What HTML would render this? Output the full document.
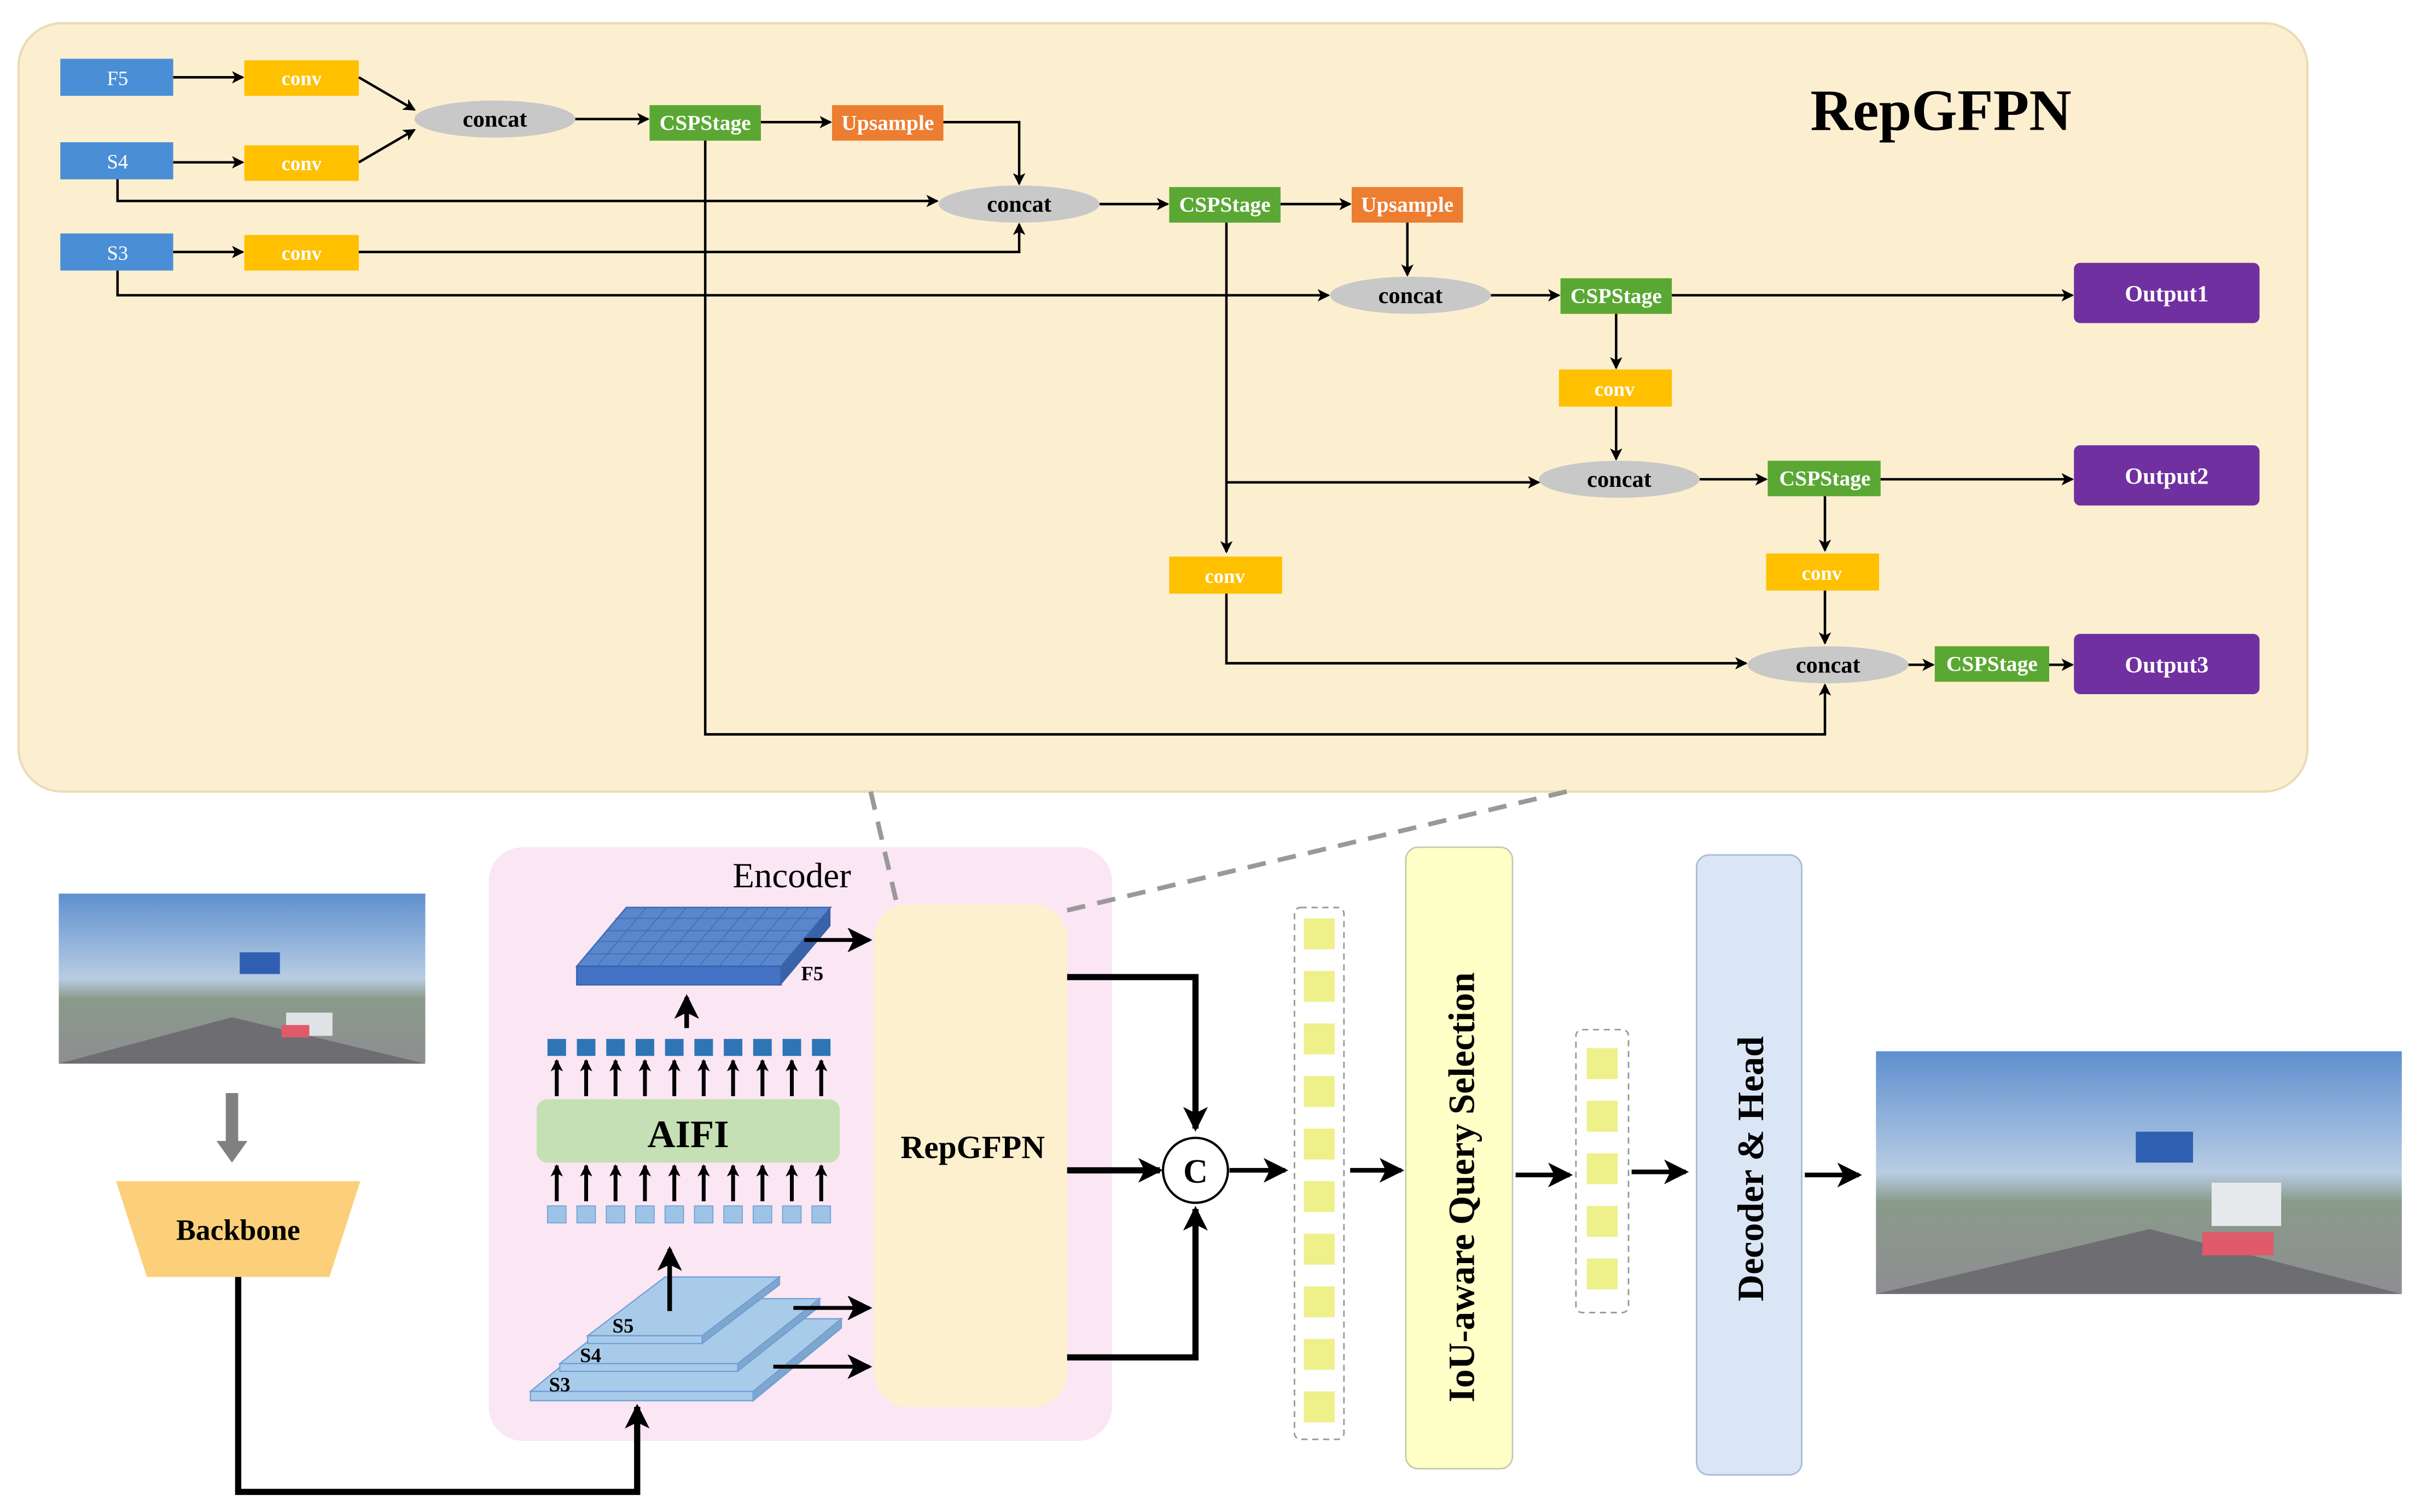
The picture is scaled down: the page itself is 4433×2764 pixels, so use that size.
<!DOCTYPE html>
<html><head><meta charset="utf-8"><style>
html,body{margin:0;padding:0;background:#fff;}
svg{display:block;}
text{font-family:"Liberation Serif",serif;}
</style></head><body>
<svg width="4433" height="2764" viewBox="0 0 1568 978" preserveAspectRatio="none" xmlns="http://www.w3.org/2000/svg">
<defs>
<marker id="a" markerWidth="8" markerHeight="8" refX="7" refY="4" orient="auto" markerUnits="userSpaceOnUse"><path d="M0,0 L8,4 L0,8 L2,4z" fill="#000"/></marker>
<marker id="b" markerWidth="16" markerHeight="16" refX="14" refY="8" orient="auto" markerUnits="userSpaceOnUse"><path d="M0,0 L16,8 L0,16 L4,8z" fill="#000"/></marker>
<linearGradient id="sky" x1="0" y1="0" x2="0" y2="1"><stop offset="0" stop-color="#5f8fcf"/><stop offset="0.5" stop-color="#b8cde3"/><stop offset="0.62" stop-color="#8a9a8a"/><stop offset="1" stop-color="#8e8e92"/></linearGradient>
</defs>
<!-- top panel -->
<rect x="12" y="15" width="1480" height="497" rx="28" fill="#fcefd0" stroke="#eadcb8" stroke-width="1.5"/>
<text x="1255" y="84" font-size="38" font-weight="bold" text-anchor="middle">RepGFPN</text>
<g font-size="13" fill="#fff" text-anchor="middle" font-weight="bold">
<rect x="39" y="38" width="73" height="24" fill="#4a8fd6"/><text x="76" y="55" font-weight="normal">F5</text>
<rect x="39" y="92" width="73" height="24" fill="#4a8fd6"/><text x="76" y="109" font-weight="normal">S4</text>
<rect x="39" y="151" width="73" height="24" fill="#4a8fd6"/><text x="76" y="168" font-weight="normal">S3</text>
<rect x="158" y="39" width="74" height="23" fill="#ffc000"/><text x="195" y="55">conv</text>
<rect x="158" y="94" width="74" height="23" fill="#ffc000"/><text x="195" y="110">conv</text>
<rect x="158" y="152" width="74" height="23" fill="#ffc000"/><text x="195" y="168">conv</text>
<rect x="1008" y="239" width="73" height="24" fill="#ffc000"/><text x="1044" y="256">conv</text>
<rect x="756" y="360" width="73" height="24" fill="#ffc000"/><text x="792" y="377">conv</text>
<rect x="1142" y="358" width="73" height="24" fill="#ffc000"/><text x="1178" y="375">conv</text>
<g font-size="14">
<rect x="420" y="68" width="72" height="23" fill="#5aa833"/><text x="456" y="84">CSPStage</text>
<rect x="756" y="121" width="72" height="23" fill="#5aa833"/><text x="792" y="137">CSPStage</text>
<rect x="1009" y="180" width="72" height="23" fill="#5aa833"/><text x="1045" y="196">CSPStage</text>
<rect x="1143" y="298" width="73" height="23" fill="#5aa833"/><text x="1180" y="314">CSPStage</text>
<rect x="1251" y="418" width="74" height="23" fill="#5aa833"/><text x="1288" y="434">CSPStage</text>
<rect x="538" y="68" width="72" height="23" fill="#ed7d31"/><text x="574" y="84">Upsample</text>
<rect x="874" y="121" width="72" height="23" fill="#ed7d31"/><text x="910" y="137">Upsample</text>
</g>
<g font-size="15">
<rect x="1341" y="170" width="120" height="39" rx="4" fill="#7030a0"/><text x="1401" y="195">Output1</text>
<rect x="1341" y="288" width="120" height="39" rx="4" fill="#7030a0"/><text x="1401" y="313">Output2</text>
<rect x="1341" y="410" width="120" height="39" rx="4" fill="#7030a0"/><text x="1401" y="435">Output3</text>
</g>
</g>
<g fill="#c8c8c8">
<ellipse cx="320" cy="77" rx="52" ry="12"/><ellipse cx="659" cy="132" rx="52" ry="12"/>
<ellipse cx="912" cy="191" rx="52" ry="12"/><ellipse cx="1047" cy="310" rx="52" ry="12"/>
<ellipse cx="1182" cy="430" rx="52" ry="12"/>
</g>
<g font-size="15" font-weight="bold" text-anchor="middle">
<text x="320" y="82">concat</text><text x="659" y="137">concat</text><text x="912" y="196">concat</text>
<text x="1047" y="315">concat</text><text x="1182" y="435">concat</text>
</g>
<g stroke="#000" stroke-width="1.6" fill="none" marker-end="url(#a)">
<path d="M112,50H157"/><path d="M112,105H157"/><path d="M112,163H157"/>
<path d="M232,50L268,71"/><path d="M232,105L268,84"/>
<path d="M372,77H419"/><path d="M492,79H537"/>
<path d="M610,79H659V119"/>
<path d="M76,116V130H606"/>
<path d="M232,163H659V145"/>
<path d="M76,175V191H859"/>
<path d="M711,132H755"/><path d="M828,132H873"/>
<path d="M910,144V178"/>
<path d="M964,191H1008"/>
<path d="M1081,191H1340"/>
<path d="M1045,203V238"/><path d="M1045,263V297"/>
<path d="M793,144V357"/>
<path d="M793,312H995"/>
<path d="M1099,310H1142"/><path d="M1216,310H1340"/>
<path d="M1180,321V356"/><path d="M1180,382V416"/>
<path d="M793,384V429H1129"/>
<path d="M456,91V475H1180V443"/>
<path d="M1234,430H1250"/><path d="M1325,430H1340"/>
</g>
<!-- input image -->
<rect x="38" y="578" width="237" height="110" fill="url(#sky)"/>
<path d="M38,688L150,658L275,688z" fill="#6e6e72"/>
<rect x="155" y="616" width="26" height="14" fill="#2e5fb0"/>
<rect x="185" y="655" width="30" height="15" fill="#dfe3e6"/><rect x="182" y="663" width="18" height="8" fill="#e05a6a"/>
<!-- output image -->
<rect x="1213" y="680" width="340" height="157" fill="url(#sky)"/>
<path d="M1213,837L1390,795L1553,837z" fill="#6e6e72"/>
<rect x="1381" y="732" width="37" height="20" fill="#2e5fb0"/>
<rect x="1430" y="765" width="45" height="28" fill="#e6e9ec"/><rect x="1424" y="797" width="46" height="15" fill="#e05a6a"/>
<!-- backbone -->
<path d="M150,707V740" stroke="#808080" stroke-width="8"/><path d="M140,738L160,738L150,752z" fill="#808080"/>
<path d="M75,764H233L213,826H95z" fill="#fcd07a"/>
<text x="154" y="802" font-size="19" font-weight="bold" text-anchor="middle">Backbone</text>
<!-- encoder -->
<rect x="316" y="548" width="403" height="384" rx="22" fill="#fbe6f4"/>
<path d="M154,826V965H412V910" stroke="#000" stroke-width="4" fill="none" marker-end="url(#b)"/>
<g stroke="#999" stroke-width="3" stroke-dasharray="12,8"><path d="M563,512L580,585"/><path d="M1013,512L685,590"/></g>
<text x="512" y="574" font-size="23" text-anchor="middle" font-family="Liberation Mono,monospace">Encoder</text>
<path d="M373,625L405,587H537L505,625z" fill="#5a86cc" stroke="#3f6fb8"/>
<path d="M373,625H505V637H373z" fill="#4472c4" stroke="#3563b0"/>
<path d="M505,625L537,587V599L505,637z" fill="#3a62a8"/>
<g stroke="#3f6fb8" stroke-width="0.6">
<path d="M386,625L418,587M399,625L431,587M412,625L444,587M426,625L458,587M439,625L471,587M452,625L484,587M465,625L497,587M478,625L510,587M491,625L523,587"/>
<path d="M379,617H511M386,609H518M392,602H524M398,594H530"/>
</g>
<path d="M520,608H562" stroke="#000" stroke-width="2.5" marker-end="url(#b)"/>
<text x="518" y="634" font-size="13" font-weight="bold">F5</text>
<path d="M444,665V645" stroke="#000" stroke-width="3" marker-end="url(#b)"/>
<g fill="#2e75b6">
<rect x="354" y="672" width="12" height="11"/><rect x="373" y="672" width="12" height="11"/><rect x="392" y="672" width="12" height="11"/><rect x="411" y="672" width="12" height="11"/><rect x="430" y="672" width="12" height="11"/><rect x="449" y="672" width="12" height="11"/><rect x="468" y="672" width="12" height="11"/><rect x="487" y="672" width="12" height="11"/><rect x="506" y="672" width="12" height="11"/><rect x="525" y="672" width="12" height="11"/>
</g>
<g fill="#9dc3e6" stroke="#6f9fd6" stroke-width="0.6">
<rect x="354" y="780" width="12" height="11"/><rect x="373" y="780" width="12" height="11"/><rect x="392" y="780" width="12" height="11"/><rect x="411" y="780" width="12" height="11"/><rect x="430" y="780" width="12" height="11"/><rect x="449" y="780" width="12" height="11"/><rect x="468" y="780" width="12" height="11"/><rect x="487" y="780" width="12" height="11"/><rect x="506" y="780" width="12" height="11"/><rect x="525" y="780" width="12" height="11"/>
</g>
<g stroke="#000" stroke-width="2.5" marker-end="url(#a)">
<path d="M360,709V686"/><path d="M379,709V686"/><path d="M398,709V686"/><path d="M417,709V686"/><path d="M436,709V686"/><path d="M455,709V686"/><path d="M474,709V686"/><path d="M493,709V686"/><path d="M512,709V686"/><path d="M531,709V686"/>
<path d="M360,777V754"/><path d="M379,777V754"/><path d="M398,777V754"/><path d="M417,777V754"/><path d="M436,777V754"/><path d="M455,777V754"/><path d="M474,777V754"/><path d="M493,777V754"/><path d="M512,777V754"/><path d="M531,777V754"/>
</g>
<rect x="347" y="711" width="196" height="41" rx="7" fill="#c5e0b4"/>
<text x="445" y="742" font-size="25" font-weight="bold" text-anchor="middle">AIFI</text>
<!-- stacked layers -->
<g fill="#a9cbea" stroke="#6f9fd6" stroke-width="0.8">
<path d="M343,900L400,853H544L487,900z"/><path d="M343,900H487V906H343z"/><path d="M487,900L544,853V859L487,906z" fill="#7fa6cc"/>
<path d="M362,882L415,840H530L477,882z"/><path d="M362,882H477V887H362z"/><path d="M477,882L530,840V845L477,887z" fill="#7fa6cc"/>
<path d="M380,864L430,826H504L454,864z"/><path d="M380,864H454V869H380z"/><path d="M454,864L504,826V831L454,869z" fill="#7fa6cc"/>
</g>
<g font-size="13" font-weight="bold"><text x="396" y="862">S5</text><text x="375" y="881">S4</text><text x="355" y="900">S3</text></g>
<path d="M433,848V808" stroke="#000" stroke-width="3" marker-end="url(#b)"/>
<path d="M513,846H562" stroke="#000" stroke-width="2.5" marker-end="url(#b)"/>
<path d="M500,884H562" stroke="#000" stroke-width="2.5" marker-end="url(#b)"/>
<!-- RepGFPN box -->
<rect x="565" y="585" width="125" height="325" rx="22" fill="#fdf0cf"/>
<text x="629" y="749" font-size="21" font-weight="bold" text-anchor="middle">RepGFPN</text>
<g stroke="#000" stroke-width="4" fill="none">
<path d="M690,632H773V730" marker-end="url(#b)"/>
<path d="M690,878H773V782" marker-end="url(#b)"/>
<path d="M690,757H750" marker-end="url(#b)"/>
</g>
<circle cx="773" cy="757" r="21" fill="#fff" stroke="#000" stroke-width="1.5"/>
<text x="773" y="765" font-size="22" font-weight="bold" text-anchor="middle">C</text>
<g stroke="#000" stroke-width="3" fill="none">
<path d="M795,757H831" marker-end="url(#b)"/>
<path d="M873,757H906" marker-end="url(#b)"/>
<path d="M980,760H1015" marker-end="url(#b)"/>
<path d="M1055,758H1090" marker-end="url(#b)"/>
<path d="M1167,760H1202" marker-end="url(#b)"/>
</g>
<rect x="837" y="587" width="32" height="344" rx="4" fill="#fff" stroke="#999" stroke-dasharray="4,3"/>
<g fill="#eef08a">
<rect x="843" y="594" width="20" height="20"/><rect x="843" y="628" width="20" height="20"/><rect x="843" y="662" width="20" height="20"/><rect x="843" y="696" width="20" height="20"/><rect x="843" y="730" width="20" height="20"/><rect x="843" y="764" width="20" height="20"/><rect x="843" y="798" width="20" height="20"/><rect x="843" y="832" width="20" height="20"/><rect x="843" y="866" width="20" height="20"/><rect x="843" y="900" width="20" height="20"/>
<rect x="1026" y="678" width="20" height="20"/><rect x="1026" y="712" width="20" height="20"/><rect x="1026" y="746" width="20" height="20"/><rect x="1026" y="780" width="20" height="20"/><rect x="1026" y="814" width="20" height="20"/>
</g>
<rect x="1019" y="666" width="34" height="183" rx="4" fill="none" stroke="#999" stroke-dasharray="4,3"/>
<rect x="909" y="548" width="69" height="402" rx="8" fill="#ffffc8" stroke="#c8c8b0"/>
<text transform="translate(953,768) rotate(-90)" font-size="24" font-weight="bold" text-anchor="middle">IoU-aware Query Selection</text>
<rect x="1097" y="553" width="68" height="401" rx="8" fill="#dae6f5" stroke="#a8bcd8"/>
<text transform="translate(1140,756) rotate(-90)" font-size="24" font-weight="bold" text-anchor="middle">Decoder &amp; Head</text>
</svg>
</body></html>
